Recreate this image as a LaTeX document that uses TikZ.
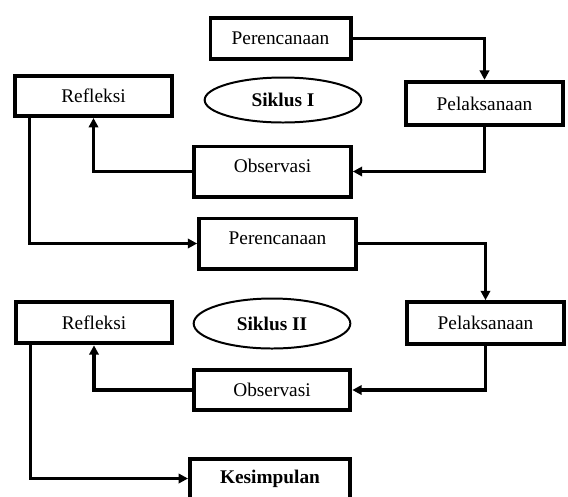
\documentclass[tikz,border=0pt]{standalone}
\usepackage{fontspec}
\setmainfont{Liberation Serif}
\usetikzlibrary{arrows.meta,positioning,shapes.geometric,calc}

\newcommand{\boxfont}{\fontsize{16.5}{19}\selectfont}
\tikzset{
  stage/.style={draw, line width=3.4pt, rectangle, minimum width=4.7cm, minimum height=1.25cm, inner sep=2pt},
  cycle/.style={draw, line width=1.7pt, ellipse, minimum width=4.7cm, minimum height=1.35cm, font=\boxfont\bfseries},
  lifted/.style={text depth=9pt},
  flow/.style={line width=2.6pt, -{Triangle[length=8pt,width=8pt]}}
}

\begin{document}
\begin{tikzpicture}[x=0.03cm, y=-0.03cm, font=\boxfont]
\useasboundingbox (0,0) rectangle (568,496);
% siklus I
\node[stage, minimum width=4.2cm] (per1) at (280.5,38.5) {Perencanaan};
\node[stage, minimum height=1.2cm] (ref1) at (93.5,96) {Refleksi};
\node[cycle] (sik1) at (283,100) {Siklus I};
\node[stage, minimum height=1.3cm] (pel1) at (484.5,103.5) {Pelaksanaan};
\node[stage, lifted, minimum height=1.5cm] (obs1) at (272.5,171.5) {Observasi};
% siklus II
\node[stage, lifted, minimum height=1.5cm] (per2) at (277.5,243.5) {Perencanaan};
\node[cycle, minimum height=1.5cm] (sik2) at (272,323.5) {Siklus II};
\node[stage, minimum height=1.25cm] (pel2) at (485.5,323) {Pelaksanaan};
\node[stage, minimum height=1.25cm] (ref2) at (94,322.5) {Refleksi};
\node[stage, minimum height=1.2cm] (obs2) at (272,390) {Observasi};
\node[stage, minimum height=1.2cm, minimum width=4.8cm, font=\boxfont\bfseries] (kes) at (270,478.5) {Kesimpulan};

\draw[flow] (per1.east) -| (pel1.north);
\draw[flow] (pel1.south) |- (obs1.east);
\draw[flow] (obs1.west) -| (ref1.south);
\draw[flow] ([xshift=0.5cm]ref1.south west) |- (per2.west);
\draw[flow] (per2.east) -| (pel2.north);
\draw[flow] (pel2.south) |- (obs2.east);
\draw[flow] (obs2.west) -| (ref2.south);
\draw[flow] ([xshift=0.5cm]ref2.south west) |- (kes.west);
\end{tikzpicture}
\end{document}
